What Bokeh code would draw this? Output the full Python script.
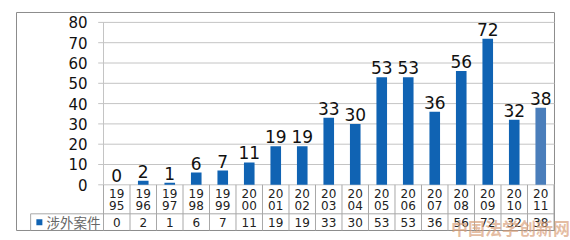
from bokeh.plotting import figure
from bokeh.models import Range1d, ColumnDataSource
from bokeh.core.properties import value
from bokeh.embed import file_html
from bokeh.resources import INLINE

years = ['1995', '1996', '1997', '1998', '1999', '2000', '2001', '2002', '2003',
         '2004', '2005', '2006', '2007', '2008', '2009', '2010', '2011']
cases = [0, 2, 1, 6, 7, 11, 19, 19, 33, 30, 53, 53, 36, 56, 72, 32, 38]
y_ticks = [0, 10, 20, 30, 40, 50, 60, 70, 80]
series_name = '涉外案件'
watermark = '中国法学创新网'

n = len(years)
centers = [i + 0.5 for i in range(n)]
colors = ['#1063b3'] * (n - 1) + ['#4a7ebb']

p = figure(width=570, height=240, output_backend="svg", toolbar_location=None,
           x_axis_type=None, y_axis_type=None,
           x_range=Range1d(-3.887, 17.623), y_range=Range1d(-27.44, 90.79),
           min_border=0)
p.outline_line_color = None
p.background_fill_color = 'white'
p.border_fill_color = 'white'
p.xgrid.visible = False
p.ygrid.visible = False

TXT = "DejaVu Sans"
CJK = "Noto Sans CJK SC"

# outer chart border
p.quad(left=[-3.283], right=[17.019], top=[84.88], bottom=[-22.51],
       fill_color=None, line_color='#8c8c8c', line_width=1)

# gridlines
p.segment(x0=[-0.2] * len(y_ticks), x1=[17.019] * len(y_ticks), y0=y_ticks, y1=y_ticks,
          line_color='#c4c4c4', line_width=1)
# y axis line
p.segment(x0=[0], x1=[0], y0=[0], y1=[max(y_ticks)], line_color='#c4c4c4', line_width=1)
# y tick labels
p.text(x=[-0.6] * len(y_ticks), y=y_ticks, text=[str(t) for t in y_ticks],
       text_font=value(TXT), text_font_size='15px', text_align='right',
       text_baseline='middle', text_color='#111111')

# bars
src = ColumnDataSource(dict(x=centers, top=cases, color=colors,
                            label=[str(v) for v in cases]))
p.vbar(x='x', top='top', bottom=0, width=0.4, fill_color='color', line_color=None, source=src)
p.text(x='x', y='top', text='label', source=src, text_font=value(TXT),
       text_font_size='17px', text_align='center', text_baseline='bottom',
       y_offset=-3, text_color='#111111')

# data table
row_top, row_mid, row_bot = 0, -14.3, -22.51
tcol = '#a8a8a8'
bounds = list(range(n + 1))
p.segment(x0=bounds, x1=bounds, y0=[row_top] * (n + 1), y1=[row_bot] * (n + 1),
          line_color=tcol, line_width=1)
p.segment(x0=[-2.75], x1=[n], y0=[row_mid], y1=[row_mid], line_color=tcol, line_width=1)
p.segment(x0=[-2.75], x1=[-2.75], y0=[row_mid], y1=[row_bot], line_color=tcol, line_width=1)

p.text(x=centers, y=[-4.1] * n, text=[y[:2] for y in years], text_font=value(TXT),
       text_font_size='12px', text_align='center', text_baseline='middle', text_color='#222222')
p.text(x=centers, y=[-10.2] * n, text=[y[2:] for y in years], text_font=value(TXT),
       text_font_size='12px', text_align='center', text_baseline='middle', text_color='#222222')
p.text(x=centers, y=[-18.4] * n, text=[str(v) for v in cases], text_font=value(TXT),
       text_font_size='12px', text_align='center', text_baseline='middle', text_color='#222222')

# legend key in table
p.scatter(x=[-2.42], y=[-18.4], marker='square', size=6, fill_color='#1063b3', line_color=None)
p.text(x=[-2.15], y=[-18.4], text=[series_name], text_font=value(CJK),
       text_font_size='13.5px', text_align='left', text_baseline='middle', text_color='#666666')

# watermark
p.text(x=[15.36], y=[-21.0], text=[watermark], text_font=value(CJK), text_font_style='bold',
       text_font_size='17px', text_align='center', text_baseline='middle',
       text_color='#d9a07a', text_alpha=0.7)

open("out.html", "w").write(file_html(p, INLINE))
